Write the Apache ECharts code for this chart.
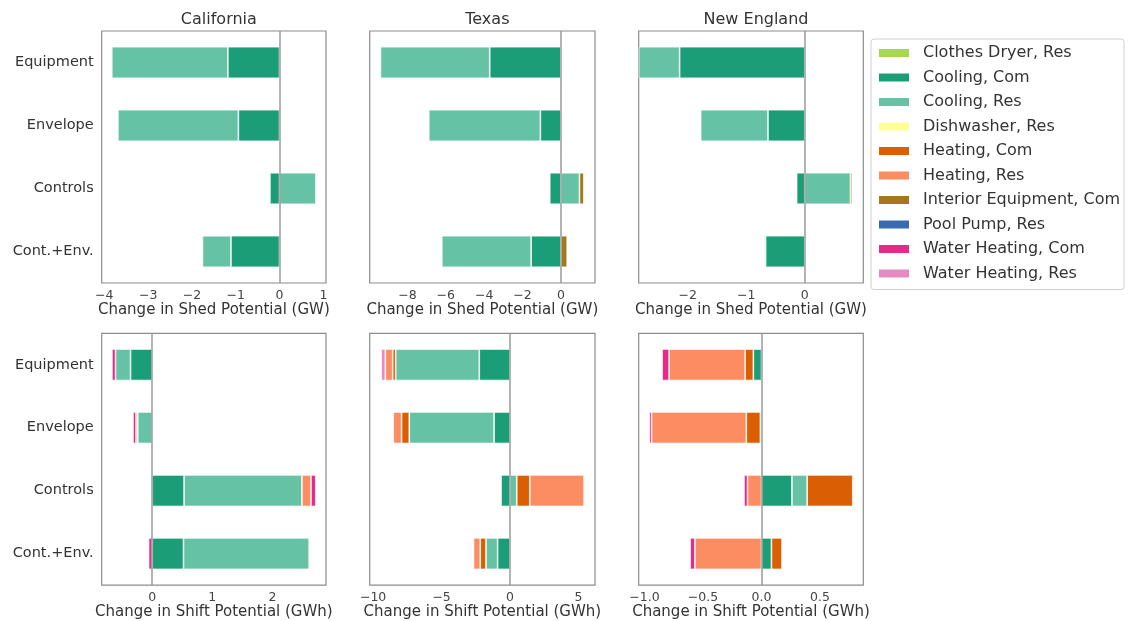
<!DOCTYPE html>
<html>
<head>
<meta charset="utf-8">
<title>Shed and shift potential</title>
<script src="https://cdn.jsdelivr.net/npm/echarts@6.0.0/dist/echarts.min.js"></script>
<style>
  html, body { margin: 0; padding: 0; background: #fff; }
  #main { width: 1129px; height: 621px; }
</style>
</head>
<body>
<div id="main"></div>
<script type="text/javascript">
var categories = ['Equipment', 'Envelope', 'Controls', 'Cont.+Env.'];
var regions = ['California', 'Texas', 'New England'];
var endUses = ['Clothes Dryer, Res', 'Cooling, Com', 'Cooling, Res', 'Dishwasher, Res',
               'Heating, Com', 'Heating, Res', 'Interior Equipment, Com', 'Pool Pump, Res',
               'Water Heating, Com', 'Water Heating, Res'];
var colors = ['#a6d854', '#1b9e77', '#66c2a5', '#ffff99', '#d95f02',
              '#fc8d62', '#a6761d', '#386cb0', '#e7298a', '#e78ac3'];

// one row per end use (same order as endUses), one column per category
var caShed = [
  [0, 0, 0, 0],
  [-1.18, -0.94, -0.22, -1.11],
  [-2.65, -2.75, 0.83, -0.65],
  [0, 0, 0, 0],
  [0, 0, 0, 0],
  [0, 0, 0, 0],
  [0, 0, 0, 0],
  [0, 0, 0, 0],
  [0, 0, 0, 0],
  [0, 0, 0, 0]
];
var txShed = [
  [0, 0, 0, 0],
  [-3.71, -1.07, -0.58, -1.55],
  [-5.70, -5.82, 0.97, -4.66],
  [0.05, 0, 0, 0],
  [0, 0, 0, 0],
  [0, 0, 0, 0],
  [0, 0, 0.23, 0.33],
  [0, 0, 0, 0],
  [0, 0, 0, 0],
  [0, 0, 0, 0]
];
var neShed = [
  [0, 0, 0, 0],
  [-2.14, -0.63, -0.14, -0.67],
  [-0.70, -1.15, 0.78, -0.02],
  [0, 0, 0, 0],
  [0, 0, 0, 0],
  [0, 0, 0, 0],
  [0, 0, 0.03, 0],
  [0, 0, 0, 0],
  [0, 0, 0, 0],
  [0, 0, 0, 0]
];
var caShift = [
  [0, 0, 0, 0],
  [-0.36, 0, 0.53, 0.52],
  [-0.25, -0.24, 1.96, 2.09],
  [0, 0, 0, 0],
  [0, 0, 0, 0],
  [0, -0.03, 0.15, 0],
  [0, 0, 0, 0],
  [0, 0, 0, 0],
  [-0.06, -0.05, 0.08, -0.06],
  [0, 0, 0, 0]
];
var txShift = [
  [0, 0, 0, 0],
  [-2.25, -1.17, -0.66, -0.91],
  [-6.1, -6.19, 0.49, -0.85],
  [0.08, 0, 0, 0],
  [-0.22, -0.56, 0.95, -0.42],
  [-0.54, -0.61, 3.96, -0.49],
  [0, 0, 0, 0],
  [0, 0, 0, 0],
  [0, 0, 0, 0],
  [-0.3, 0, 0, 0]
];
var neShift = [
  [0, 0, 0, 0],
  [-0.07, -0.01, 0.26, 0.085],
  [0, 0, 0.13, 0],
  [0, 0, 0, 0],
  [-0.07, -0.12, 0.39, 0.09],
  [-0.65, -0.81, -0.12, -0.57],
  [0, 0, 0, 0],
  [0, 0, 0, 0],
  [-0.06, -0.02, -0.03, -0.04],
  [0, 0, 0, 0]
];

var caShedTicks = ['−4', '−3', '−2', '−1', '0', '1'];
var txShedTicks = ['−8', '−6', '−4', '−2', '0'];
var neShedTicks = ['−2', '−1', '0'];
var caShiftTicks = ['0', '1', '2'];
var txShiftTicks = ['−10', '−5', '0', '5'];
var neShiftTicks = ['−1.0', '−0.5', '0.0', '0.5'];

var shedName = 'Change in Shed Potential (GW)';
var shiftName = 'Change in Shift Potential (GWh)';

// panel layout: column lefts / widths, row tops
var colLeft = [101.7, 369.7, 638.7];
var colWidth = [224.3, 225.3, 224.6];
var rowTop = [31, 333.3];
var panelH = 252;

var panels = [
  { rows: caShed,  ticks: caShedTicks,  min: -4.06,  max: 1.06, name: shedName },
  { rows: txShed,  ticks: txShedTicks,  min: -9.97,  max: 1.78, name: shedName },
  { rows: neShed,  ticks: neShedTicks,  min: -2.84,  max: 1.0,  name: shedName },
  { rows: caShift, ticks: caShiftTicks, min: -0.84,  max: 2.89, name: shiftName },
  { rows: txShift, ticks: txShiftTicks, min: -10.25, max: 6.2,  name: shiftName },
  { rows: neShift, ticks: neShiftTicks, min: -1.05,  max: 0.87, name: shiftName }
];

function tickValue(s) { return parseFloat(s.replace('−', '-')); }

var FONT = 'DejaVu Sans';
var grids = [], xAxes = [], yAxes = [], series = [], titles = [];

panels.forEach(function (p, i) {
  var col = i % 3, row = Math.floor(i / 3);
  grids.push({
    left: colLeft[col], top: rowTop[row], width: colWidth[col], height: panelH,
    show: true, borderColor: '#8c8c8c', borderWidth: 1.2, backgroundColor: 'transparent'
  });
  var ticks = p.ticks;
  xAxes.push({
    gridIndex: i, type: 'value', min: p.min, max: p.max,
    name: p.name, nameLocation: 'middle', nameGap: 17,
    nameTextStyle: { fontFamily: FONT, fontSize: 15, color: '#333' },
    axisLine: { show: false }, axisTick: { show: false }, splitLine: { show: false },
    axisLabel: {
      customValues: ticks.map(tickValue),
      margin: 6, fontFamily: FONT, fontSize: 12.5, color: '#444',
      formatter: function (v) {
        for (var k = 0; k < ticks.length; k++) {
          if (Math.abs(tickValue(ticks[k]) - v) < 1e-9) return ticks[k];
        }
        return '';
      }
    }
  });
  yAxes.push({
    gridIndex: i, type: 'category', data: categories, inverse: true,
    axisLine: { show: false }, axisTick: { show: false }, splitLine: { show: false },
    axisLabel: { show: col === 0, margin: 8, fontFamily: FONT, fontSize: 14.5, color: '#333' }
  });
  p.rows.forEach(function (vals, j) {
    series.push({
      type: 'bar', name: endUses[j], xAxisIndex: i, yAxisIndex: i, stack: 'p' + i,
      barWidth: '50%',
      data: vals.map(function (v) { return v === 0 ? '-' : v; }),
      itemStyle: { color: colors[j], borderColor: '#fff', borderWidth: 0.7 },
      emphasis: { disabled: true }
    });
  });
  // vertical zero line
  series.push({
    type: 'line', xAxisIndex: i, yAxisIndex: i, data: [], silent: true, z: 5,
    markLine: {
      silent: true, symbol: 'none', label: { show: false },
      lineStyle: { color: '#9a9a9a', width: 1.5, type: 'solid' },
      data: [{ xAxis: 0 }]
    }
  });
  if (row === 0) {
    titles.push({
      text: regions[col], left: colLeft[col] + colWidth[col] / 2, top: 7, textAlign: 'center',
      textStyle: { fontFamily: FONT, fontSize: 16, fontWeight: 'normal', color: '#333' }
    });
  }
});

var myChart = echarts.init(document.getElementById('main'));
myChart.setOption({
  animation: false,
  title: titles,
  legend: {
    data: endUses, orient: 'vertical', left: 871, top: 39,
    padding: [6, 4, 8, 6], itemWidth: 32, itemHeight: 10, itemGap: 8.5,
    icon: 'rect', selectedMode: false,
    borderColor: '#d0d0d0', borderWidth: 1, borderRadius: 3,
    textStyle: { fontFamily: FONT, fontSize: 16, lineHeight: 16, color: '#333', padding: [0, 0, 0, 8] }
  },
  grid: grids,
  xAxis: xAxes,
  yAxis: yAxes,
  series: series
});
</script>
</body>
</html>
